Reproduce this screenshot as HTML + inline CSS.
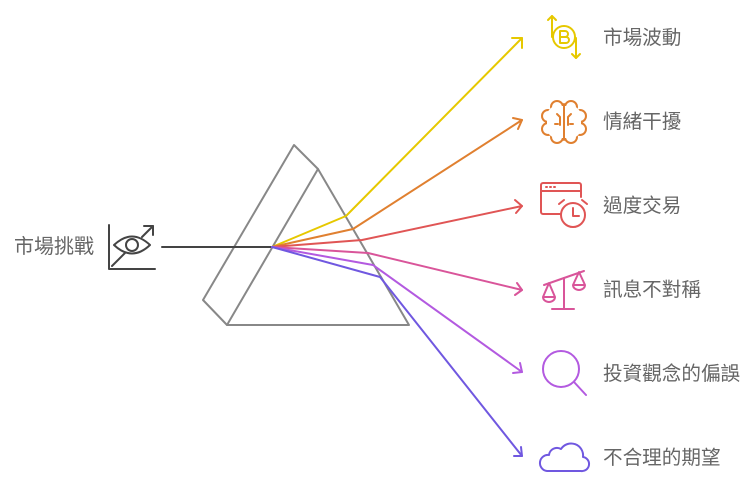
<!DOCTYPE html>
<html><head><meta charset="utf-8"><style>
html,body{margin:0;padding:0;background:#fff;width:756px;height:494px;overflow:hidden}
svg{display:block}
text{font-family:"Liberation Sans","Noto Sans CJK TC",sans-serif;font-size:19.6px;fill:#666}
</style></head><body>
<svg width="756" height="494" viewBox="0 0 756 494" fill="none" stroke-linecap="round" stroke-linejoin="round">
<g stroke="#888" stroke-width="2">
<polygon points="318,169 227,325 409,325"/>
<polyline points="318,169 294,145 203,300 227,325"/>
</g>
<line x1="162" y1="247" x2="272" y2="247" stroke="#444" stroke-width="2"/>
<g stroke="#444" stroke-width="2">
<polyline points="109,225 109,269 155,269"/>
<line x1="112" y1="266" x2="125" y2="253"/>
<polyline points="144,226 153,226 153,235"/><line x1="153" y1="226" x2="142" y2="237"/>
<path d="M114,245 Q132,228 150,245 Q132,262 114,245Z"/>
<circle cx="132" cy="245" r="6"/>
</g>
<text x="14" y="253" style="font-size:20px">市場挑戰</text>
<g stroke-width="2">
<polyline stroke="#e6c800" points="272,247 346,216 522,38"/><polyline stroke="#e6c800" points="512,38 522,38 522,48"/>
<polyline stroke="#e08030" points="272,247 353,229 522,120"/><polyline stroke="#e08030" points="513,118 522,120 518,129"/>
<polyline stroke="#e05555" points="272,247 362,240 522,206"/><polyline stroke="#e05555" points="515,200 522,206 516,213"/>
<polyline stroke="#d9559a" points="272,247 368,253 522,290"/><polyline stroke="#d9559a" points="517,283 522,290 515,295"/>
<polyline stroke="#b35ae0" points="272,247 373,265 522,372"/><polyline stroke="#b35ae0" points="520,363 522,372 513,373"/>
<polyline stroke="#7058e0" points="272,247 380,277 522,456"/><polyline stroke="#7058e0" points="521,447 522,456 514,456"/>
</g>
<g stroke="#e6c800" stroke-width="2">
<circle cx="564" cy="37" r="11"/>
<path d="M560,31 v12 M560,31 h5 a3,3 0 0 1 0,6 h-5 M560,37 h6 a3,3 0 0 1 0,6 h-6"/>
<polyline points="552,37 552,16 548,20"/><line x1="552" y1="16" x2="556" y2="20"/>
<polyline points="576,38 576,58 572,54"/><line x1="576" y1="58" x2="580" y2="54"/>
</g>
<g stroke="#e08030" stroke-width="2">
<circle cx="557" cy="107" r="6"/><circle cx="571" cy="107" r="6"/>
<circle cx="548" cy="116" r="6"/><circle cx="580" cy="116" r="6"/>
<circle cx="548" cy="129" r="6"/><circle cx="580" cy="129" r="6"/>
<circle cx="557" cy="137" r="6"/><circle cx="571" cy="137" r="6"/>
<rect x="547" y="106" width="34" height="32" rx="10" fill="#fff" stroke="none"/>
<line x1="564" y1="104" x2="564" y2="140"/>
<path d="M557,114 l3,3 v8 M571,114 l-3,3 v8 M555,124 h3 M573,124 h-3"/>
</g>
<g stroke="#e05555" stroke-width="2">
<path d="M561,214 h-18 a2,2 0 0 1 -2,-2 v-27 a2,2 0 0 1 2,-2 h36 a2,2 0 0 1 2,2 v12"/>
<line x1="541" y1="191" x2="581" y2="191"/>
<circle cx="573" cy="215" r="12"/>
<polyline points="573,208 573,216 579,216"/>
<path d="M559,204 l5,-4 M587,204 l-5,-4"/>
<path d="M546,187 h1 M550,187 h1 M554,187 h1"/>
</g>
<g stroke="#d9559a" stroke-width="2">
<line x1="544" y1="285" x2="584" y2="271"/>
<line x1="564" y1="278" x2="564" y2="308"/>
<line x1="552" y1="309" x2="574" y2="309"/>
<path d="M549,283 l-6,14 h12 Z M543,297 a6,5 0 0 0 12,0"/>
<path d="M579,272 l-6,13 h12 Z M573,285 a6,5 0 0 0 12,0"/>
</g>
<g stroke="#b35ae0" stroke-width="2">
<circle cx="561" cy="369" r="18"/>
<line x1="574" y1="382" x2="586" y2="395"/>
</g>
<g stroke="#7058e0" stroke-width="2">
<path d="M547,471 h34 a7,7 0 0 0 2,-14 a12,12 0 0 0 -22,-8 a8,8 0 0 0 -12,6 a8,8 0 0 0 -2,16Z"/>
</g>
<text x="603" y="44">市場波動</text>
<text x="603" y="128">情緒干擾</text>
<text x="603" y="212">過度交易</text>
<text x="603" y="296">訊息不對稱</text>
<text x="603" y="380">投資觀念的偏誤</text>
<text x="603" y="464">不合理的期望</text>
</svg>
</body></html>
